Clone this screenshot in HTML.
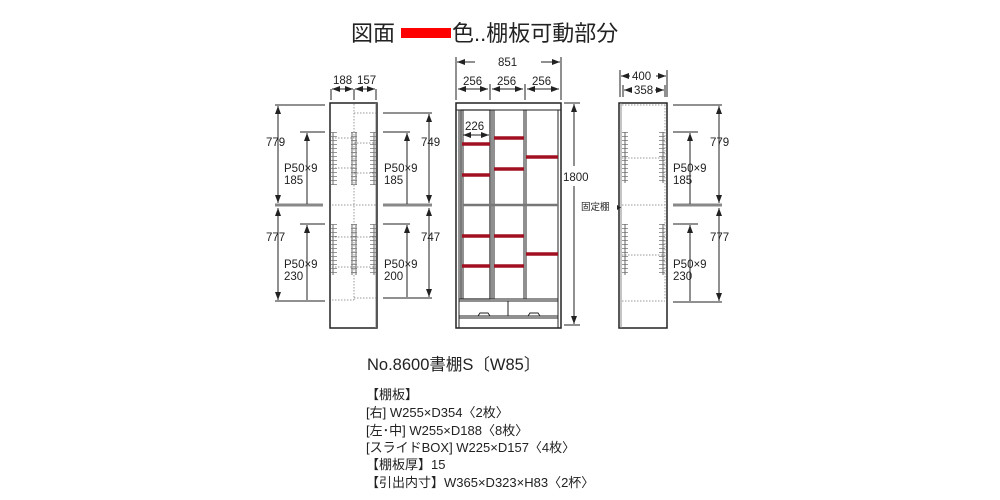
<!DOCTYPE html>
<html><head><meta charset="utf-8"><style>
body{margin:0;background:#fff;width:1000px;height:500px;overflow:hidden}
svg{display:block}
text{font-family:"Liberation Sans","Noto Sans CJK JP",sans-serif;fill:#222}
</style></head><body>
<svg width="1000" height="500" viewBox="0 0 1000 500" xmlns="http://www.w3.org/2000/svg">
<defs>
<marker id="a" markerWidth="8" markerHeight="6" refX="8" refY="3" orient="auto-start-reverse" markerUnits="userSpaceOnUse"><path d="M0,0 L8,3 L0,6z" fill="#222"/></marker>
</defs>
<text x="351" y="41" font-size="22" fill="#111">図面</text>
<rect x="401" y="28" width="50" height="10" fill="#f00"/>
<text x="452" y="41" font-size="22" fill="#111">色..棚板可動部分</text>

<g stroke="#222" fill="none" stroke-width="1">
<rect x="330" y="103" width="47" height="225" stroke-width="1.5"/>
<line x1="376" y1="103" x2="376" y2="328" stroke="#888"/>
<line x1="331" y1="89" x2="331" y2="100"/><line x1="354" y1="89" x2="354" y2="100"/><line x1="376" y1="89" x2="376" y2="100"/>
<line x1="332" y1="89" x2="353" y2="89" marker-start="url(#a)" marker-end="url(#a)"/>
<line x1="355" y1="89" x2="375" y2="89" marker-start="url(#a)" marker-end="url(#a)"/>
<g stroke="#999" stroke-dasharray="1.5,1.5">
<line x1="354" y1="104" x2="354" y2="300"/><line x1="354" y1="113" x2="376" y2="113"/>
<line x1="332" y1="205" x2="376" y2="205"/><line x1="332" y1="300" x2="354" y2="300"/><line x1="354" y1="298" x2="376" y2="298"/>
<line x1="332" y1="138" x2="354" y2="138"/><line x1="332" y1="168" x2="354" y2="168"/><line x1="354" y1="143" x2="376" y2="143"/><line x1="354" y1="173" x2="376" y2="173"/>
<line x1="332" y1="237" x2="354" y2="237"/><line x1="332" y1="267" x2="354" y2="267"/><line x1="354" y1="237" x2="376" y2="237"/><line x1="354" y1="267" x2="376" y2="267"/>
</g>
<g stroke="#666">
<line x1="333" y1="132" x2="333" y2="185"/><line x1="352" y1="132" x2="352" y2="185"/><line x1="356" y1="132" x2="356" y2="185"/><line x1="374" y1="132" x2="374" y2="185"/>
<line x1="333" y1="224" x2="333" y2="275"/><line x1="352" y1="224" x2="352" y2="275"/><line x1="356" y1="224" x2="356" y2="275"/><line x1="374" y1="224" x2="374" y2="275"/>
</g>
<g stroke="#777" stroke-width="6" stroke-dasharray="0.8,3.2">
<line x1="334" y1="132" x2="334" y2="185"/><line x1="354" y1="132" x2="354" y2="185"/><line x1="373" y1="132" x2="373" y2="185"/>
<line x1="334" y1="224" x2="334" y2="275"/><line x1="354" y1="224" x2="354" y2="275"/><line x1="373" y1="224" x2="373" y2="275"/>
<line x1="625" y1="132" x2="625" y2="183"/><line x1="662" y1="132" x2="662" y2="183"/>
<line x1="625" y1="224" x2="625" y2="275"/><line x1="662" y1="224" x2="662" y2="275"/>
</g>
<line x1="275" y1="105" x2="325" y2="105"/>
<line x1="275" y1="205" x2="323" y2="205" stroke="#888" stroke-width="3"/>
<line x1="275" y1="301" x2="325" y2="301"/>
<line x1="300" y1="132" x2="325" y2="132"/><line x1="300" y1="224" x2="325" y2="224"/>
<line x1="278" y1="106" x2="278" y2="203" marker-start="url(#a)" marker-end="url(#a)"/>
<line x1="278" y1="208" x2="278" y2="300" marker-start="url(#a)" marker-end="url(#a)"/>
<line x1="307" y1="133" x2="307" y2="204" marker-start="url(#a)"/>
<line x1="307" y1="225" x2="307" y2="300" marker-start="url(#a)"/>
<line x1="383" y1="113" x2="432" y2="113"/>
<line x1="383" y1="205" x2="432" y2="205" stroke="#888" stroke-width="3"/>
<line x1="383" y1="298" x2="432" y2="298"/>
<line x1="383" y1="132" x2="410" y2="132"/><line x1="383" y1="224" x2="410" y2="224"/>
<line x1="429" y1="114" x2="429" y2="203" marker-start="url(#a)" marker-end="url(#a)"/>
<line x1="429" y1="208" x2="429" y2="297" marker-start="url(#a)" marker-end="url(#a)"/>
<line x1="407" y1="133" x2="407" y2="204" marker-start="url(#a)"/>
<line x1="407" y1="225" x2="407" y2="297" marker-start="url(#a)"/>

<rect x="456" y="103" width="105" height="225" stroke-width="1.5"/>
<line x1="456" y1="110" x2="561" y2="110"/>
<line x1="459" y1="110" x2="459" y2="328"/><line x1="558" y1="110" x2="558" y2="328"/>
<rect x="461" y="110" width="29" height="189" stroke-width="1.2"/>
<line x1="463" y1="110" x2="463" y2="299"/>
<line x1="492" y1="110" x2="492" y2="299"/><line x1="494" y1="110" x2="494" y2="299"/>
<line x1="524" y1="110" x2="524" y2="299"/><line x1="526" y1="110" x2="526" y2="299"/>
<line x1="459" y1="299" x2="558" y2="299"/><line x1="459" y1="301" x2="558" y2="301"/>
<line x1="459" y1="316" x2="558" y2="316"/><line x1="459" y1="318" x2="558" y2="318"/>
<line x1="508" y1="301" x2="508" y2="316"/>
<path d="M478,316 l2,-3 h8 l2,3 M528,316 l2,-3 h8 l2,3"/>
<line x1="463" y1="205" x2="558" y2="205" stroke="#777" stroke-width="2.5"/>
<g stroke="#a01020" stroke-width="3.5">
<line x1="462" y1="144" x2="490" y2="144"/><line x1="462" y1="175" x2="490" y2="175"/><line x1="462" y1="236" x2="490" y2="236"/><line x1="462" y1="266" x2="490" y2="266"/>
<line x1="494" y1="138" x2="524" y2="138"/><line x1="494" y1="169" x2="524" y2="169"/><line x1="494" y1="236" x2="524" y2="236"/><line x1="494" y1="266" x2="524" y2="266"/>
<line x1="526" y1="157" x2="558" y2="157"/><line x1="526" y1="254" x2="558" y2="254"/>
</g>
<line x1="456" y1="57" x2="456" y2="100"/><line x1="561" y1="57" x2="561" y2="100"/>
<line x1="490" y1="84" x2="490" y2="100"/><line x1="525" y1="84" x2="525" y2="100"/>
<line x1="457" y1="62" x2="475" y2="62" marker-start="url(#a)"/><line x1="541" y1="62" x2="560" y2="62" marker-end="url(#a)"/>
<line x1="458" y1="89" x2="488" y2="89" marker-start="url(#a)" marker-end="url(#a)"/>
<line x1="492" y1="89" x2="523" y2="89" marker-start="url(#a)" marker-end="url(#a)"/>
<line x1="527" y1="89" x2="559" y2="89" marker-start="url(#a)" marker-end="url(#a)"/>
<line x1="463" y1="135" x2="489" y2="135" marker-start="url(#a)" marker-end="url(#a)"/>
<line x1="564" y1="103" x2="580" y2="103"/><line x1="564" y1="325" x2="580" y2="325"/>
<line x1="574" y1="104" x2="574" y2="166" marker-start="url(#a)"/><line x1="574" y1="186" x2="574" y2="324" marker-end="url(#a)"/>

<rect x="619" y="103" width="48" height="225" stroke-width="1.5"/>
<line x1="621" y1="103" x2="621" y2="328" stroke="#888"/>
<g stroke="#999" stroke-dasharray="1.5,1.5">
<line x1="622" y1="105" x2="666" y2="105"/><line x1="665" y1="105" x2="665" y2="300"/>
<line x1="622" y1="205" x2="665" y2="205"/><line x1="622" y1="158" x2="665" y2="158"/><line x1="622" y1="255" x2="665" y2="255"/><line x1="622" y1="301" x2="665" y2="301"/>
</g>
<g stroke="#666">
<line x1="625" y1="132" x2="625" y2="183"/><line x1="663" y1="132" x2="663" y2="183"/>
<line x1="625" y1="224" x2="625" y2="275"/><line x1="663" y1="224" x2="663" y2="275"/>
</g>
<line x1="620" y1="70" x2="620" y2="97"/><line x1="667" y1="70" x2="667" y2="97"/><line x1="623" y1="85" x2="623" y2="97"/><line x1="665" y1="85" x2="665" y2="97"/>
<line x1="621" y1="76" x2="630" y2="76" marker-start="url(#a)"/><line x1="656" y1="76" x2="666" y2="76" marker-end="url(#a)"/>
<line x1="624" y1="90" x2="632" y2="90" marker-start="url(#a)"/><line x1="655" y1="90" x2="664" y2="90" marker-end="url(#a)"/>
<line x1="673" y1="105" x2="722" y2="105"/>
<line x1="673" y1="205" x2="722" y2="205" stroke="#888" stroke-width="3"/>
<line x1="673" y1="302" x2="722" y2="302"/>
<line x1="673" y1="132" x2="698" y2="132"/><line x1="673" y1="224" x2="698" y2="224"/>
<line x1="719" y1="106" x2="719" y2="203" marker-start="url(#a)" marker-end="url(#a)"/>
<line x1="719" y1="208" x2="719" y2="301" marker-start="url(#a)" marker-end="url(#a)"/>
<line x1="690" y1="133" x2="690" y2="204" marker-start="url(#a)"/>
<line x1="690" y1="225" x2="690" y2="301" marker-start="url(#a)"/>
</g>
<path d="M617,205 l4,2.5 l-4,2.5z" fill="#222"/>

<g font-size="11.5">
<text x="333" y="84">188</text><text x="357" y="84">157</text>
<text x="266" y="146">779</text><text x="266" y="241">777</text>
<text x="284" y="172">P50×9</text><text x="284" y="184">185</text>
<text x="284" y="268">P50×9</text><text x="284" y="280">230</text>
<text x="421" y="146">749</text><text x="421" y="241">747</text>
<text x="384" y="172">P50×9</text><text x="384" y="184">185</text>
<text x="384" y="268">P50×9</text><text x="384" y="280">200</text>
<text x="498" y="66">851</text>
<text x="463" y="85">256</text><text x="497" y="85">256</text><text x="532" y="85">256</text>
<text x="465" y="130">226</text>
<text x="563" y="181">1800</text>
<text x="632" y="80">400</text><text x="634" y="94">358</text>
<text x="710" y="146">779</text><text x="710" y="241">777</text>
<text x="673" y="172">P50×9</text><text x="673" y="184">185</text>
<text x="673" y="268">P50×9</text><text x="673" y="280">230</text>
</g>
<text x="581" y="210" font-size="9.5">固定棚</text>

<text x="367" y="370" font-size="16.5" fill="#111">No.8600書棚S〔W85〕</text>
<g font-size="13" fill="#111">
<text x="366" y="399">【棚板】</text>
<text x="366" y="417">[右] W255×D354〈2枚〉</text>
<text x="366" y="435">[左･中] W255×D188〈8枚〉</text>
<text x="366" y="452">[スライドBOX] W225×D157〈4枚〉</text>
<text x="366" y="469">【棚板厚】15</text>
<text x="366" y="487">【引出内寸】W365×D323×H83〈2杯〉</text>
</g>
</svg>
</body></html>
